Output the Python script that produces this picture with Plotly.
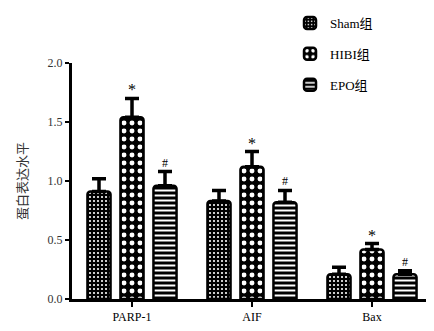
import plotly.graph_objects as go

categories = ["PARP-1", "AIF", "Bax"]
groups = ["Sham组", "HIBI组", "EPO组"]
sham = [0.91, 0.83, 0.21]
sham_err = [0.11, 0.09, 0.06]
hibi = [1.54, 1.12, 0.42]
hibi_err = [0.16, 0.13, 0.05]
epo = [0.96, 0.82, 0.21]
epo_err = [0.12, 0.10, 0.03]
marks_hibi = ["*", "*", "*"]
marks_epo = ["#", "#", "#"]

serif = "'Liberation Serif', 'Times New Roman', serif"
cjk = "'Liberation Serif', 'Noto Sans CJK SC', serif"

patterns = [
    dict(shape=".", bgcolor="black", fgcolor="white", size=4, solidity=0.22, fillmode="replace"),
    dict(shape=".", bgcolor="black", fgcolor="white", size=8, solidity=0.3, fillmode="replace"),
    dict(shape="-", bgcolor="black", fgcolor="white", size=5, solidity=0.4, fillmode="replace"),
]

fig = go.Figure()
for k, (name, vals, errs, pat) in enumerate(zip(groups, [sham, hibi, epo], [sham_err, hibi_err, epo_err], patterns)):
    fig.add_trace(go.Bar(
        name=name, x=categories, y=vals, legendgroup="g%d" % k,
        marker=dict(color="black", pattern=pat, line=dict(color="black", width=2.5), cornerradius=3),
        error_y=dict(type="data", array=errs, arrayminus=[0]*len(errs), symmetric=False,
                     color="black", thickness=3.5, width=7),
    ))

# significance markers
for i, c in enumerate(categories):
    fig.add_annotation(x=c, y=hibi[i] + hibi_err[i], text=marks_hibi[i], showarrow=False,
                       yanchor="bottom", yshift=-2, font=dict(family=serif, size=16, color="black"))
    fig.add_annotation(x=c, y=epo[i] + epo_err[i], text=marks_epo[i], showarrow=False,
                       xshift=33, yanchor="bottom", yshift=0, font=dict(family=serif, size=12, color="black"))

fig.update_layout(
    width=426, height=323,
    margin=dict(l=64, r=2, t=55, b=32, autoexpand=False),
    plot_bgcolor="white", paper_bgcolor="white",
    barmode="group", bargap=0.175, bargroupgap=0.3,
    font=dict(family=cjk, size=12, color="black"),
    legend=dict(x=0.662, y=1.02, xref="container", yref="container", xanchor="left", yanchor="top",
                font=dict(family=cjk, size=13, color="black"),
                itemwidth=30, tracegroupgap=11, bgcolor="rgba(0,0,0,0)"),
    xaxis=dict(range=[-0.5, 2.5], showline=True, linecolor="black", linewidth=3,
               ticks="outside", ticklen=5, tickwidth=2, tickcolor="black",
               tickfont=dict(family=serif, size=12, color="black"), showgrid=False,
               zeroline=False, automargin=False),
    yaxis=dict(range=[0, 2.0], tickvals=[0, 0.5, 1.0, 1.5, 2.0], tickformat=".1f",
               showline=True, linecolor="black", linewidth=3,
               ticks="outside", ticklen=4, tickwidth=2, tickcolor="black",
               tickfont=dict(family=serif, size=12, color="#333333"), showgrid=False,
               zeroline=False, automargin=False,
               title=dict(text="蛋白表达水平", font=dict(family=cjk, size=13, color="#333333"), standoff=18)),
)

fig.write_html("out.html")
